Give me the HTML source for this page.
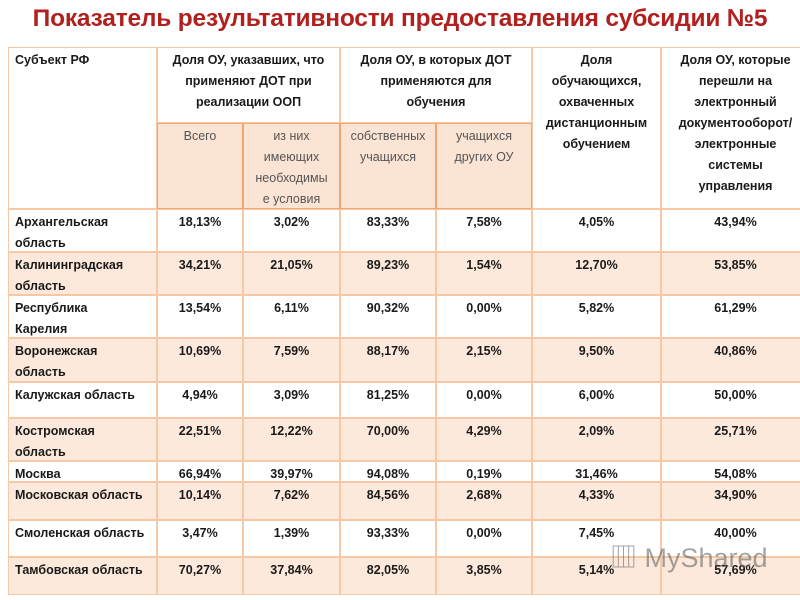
<!DOCTYPE html>
<html><head><meta charset="utf-8">
<style>
body{margin:0;width:800px;height:600px;background:#fff;position:relative;overflow:hidden;font-family:"Liberation Sans","Noto Sans CJK SC",sans-serif;}
#title{position:absolute;left:0;width:800px;top:5px;text-align:center;font-size:24.5px;font-weight:bold;color:#b0201f;letter-spacing:-0.2px;white-space:nowrap;}
.c{position:absolute;box-sizing:border-box;border:1px solid #f6c8a4;font-size:12.5px;line-height:21px;color:#1a1a1a;padding-top:2px;overflow:hidden;}
.h{font-weight:bold;text-align:center;}
.sub{background:#fbe4d3;color:#555;text-align:center;font-weight:normal;border:1.5px solid #f2a56e;}
.d{font-weight:bold;text-align:center;}
.r{font-weight:bold;text-align:left;padding-left:6px;white-space:nowrap;}
.sh{background:#fce9db;}
#wm{position:absolute;left:610px;top:536px;font-size:27px;color:rgba(90,90,90,0.55);}
</style></head>
<body>
<div id="title">Показатель результативности предоставления субсидии №5</div>
<div id="tbl"></div>
<div id="wm">▥ MyShared</div>
<script>
const regions=["Архангельская<br>область","Калининградская<br>область","Республика<br>Карелия","Воронежская<br>область","Калужская область","Костромская<br>область","Москва","Московская область","Смоленская область","Тамбовская область"];
const colTotal=["18,13%","34,21%","13,54%","10,69%","4,94%","22,51%","66,94%","10,14%","3,47%","70,27%"];
const colCond=["3,02%","21,05%","6,11%","7,59%","3,09%","12,22%","39,97%","7,62%","1,39%","37,84%"];
const colOwn=["83,33%","89,23%","90,32%","88,17%","81,25%","70,00%","94,08%","84,56%","93,33%","82,05%"];
const colOther=["7,58%","1,54%","0,00%","2,15%","0,00%","4,29%","0,19%","2,68%","0,00%","3,85%"];
const colDist=["4,05%","12,70%","5,82%","9,50%","6,00%","2,09%","31,46%","4,33%","7,45%","5,14%"];
const colDoc=["43,94%","53,85%","61,29%","40,86%","50,00%","25,71%","54,08%","34,90%","40,00%","57,69%"];
const X=[8,157,243,340,436,532,661,800];
const Y=[209,252,295,338,382,418,461,482,520,557,595];
const tbl=document.getElementById('tbl');
function cell(x,y,w,h,cls,html,name){
  const d=document.createElement('div');
  d.className='c '+cls;
  d.style.left=x+'px';d.style.top=y+'px';d.style.width=w+'px';d.style.height=h+'px';
  d.innerHTML=html;
  
  
  tbl.appendChild(d);
}
cell(X[0],47,X[1]-X[0],162,'h','<div style="text-align:left;padding-left:6px">Субъект РФ</div>','header-region');
cell(X[1],47,X[3]-X[1],76,'h','Доля ОУ, указавших, что<br>применяют ДОТ при<br>реализации ООП','header-dot-use');
cell(X[3],47,X[5]-X[3],76,'h','Доля ОУ, в которых ДОТ<br>применяются для<br>обучения','header-dot-learning');
cell(X[5],47,X[6]-X[5],162,'h','Доля<br>обучающихся,<br>охваченных<br>дистанционным<br>обучением','header-distance');
cell(X[6],47,X[7]-X[6]+10,162,'h','Доля ОУ, которые<br>перешли на<br>электронный<br>документооборот/<br>электронные<br>системы<br>управления','header-edoc');
const subs=['Всего','из них<br>имеющих<br>необходимы<br>е условия','собственных<br>учащихся','учащихся<br>других ОУ'];
const subNames=['subheader-total','subheader-conditions','subheader-own','subheader-other'];
for(let i=0;i<4;i++) cell(X[i+1],123,X[i+2]-X[i+1],86,'sub',subs[i],subNames[i]);
const cols=[colTotal,colCond,colOwn,colOther,colDist,colDoc];
for(let r=0;r<regions.length;r++){
  const y=Y[r],h=Y[r+1]-Y[r],sh=(r%2===1)?' sh':'';
  cell(X[0],y,X[1]-X[0],h,'r'+sh,regions[r],'region-'+r);
  for(let c=0;c<cols.length;c++){
    const w=X[c+2]-X[c+1]+(c===5?10:0);
    cell(X[c+1],y,w,h,'d'+sh,cols[c][r],'value-r'+r+'-c'+c);
  }
}
</script>
</body></html>
